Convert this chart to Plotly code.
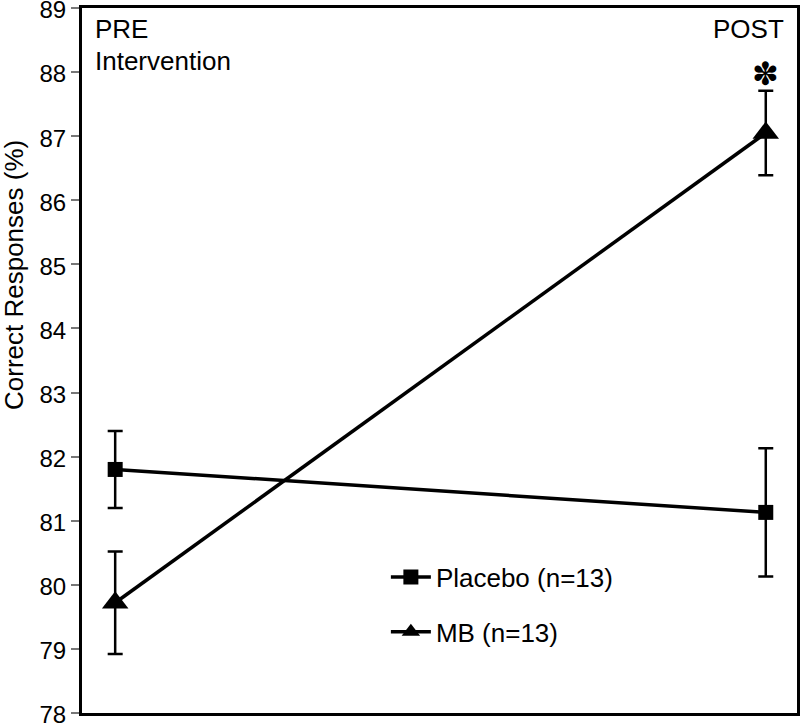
import plotly.graph_objects as go

timepoints = [0, 1]
placebo_mean = [81.80, 81.13]
placebo_err = [0.60, 1.00]
mb_mean = [79.72, 87.05]
mb_err = [0.80, 0.66]
y_ticks = list(range(78, 90))

L, R, T, B = 82, 3, 8, 11
W, H = 800, 724
pw, ph = W - L - R, H - T - B

def px_x(x):
    return (x - L) / pw

def px_y(y):
    return (H - B - y) / ph

fig = go.Figure()
fig.add_trace(go.Scatter(
    x=timepoints, y=placebo_mean, name="Placebo (n=13)", mode="lines+markers",
    legendgroup="a",
    line=dict(color="black", width=3.5),
    marker=dict(symbol="square", size=15, color="black"),
    error_y=dict(type="data", array=placebo_err, color="black", thickness=2.5, width=7.5),
))
fig.add_trace(go.Scatter(
    x=timepoints, y=mb_mean, name="MB (n=13)", mode="lines+markers",
    legendgroup="b",
    line=dict(color="black", width=3.5),
    marker=dict(symbol="triangle-up", size=23, color="black"),
    error_y=dict(type="data", array=mb_err, color="black", thickness=2.5, width=7.5),
))

fig.add_annotation(x=px_x(93), y=px_y(12), xref="paper", yref="paper", text="PRE",
                   showarrow=False, xanchor="left", yanchor="top", align="left",
                   font=dict(size=26, color="black"))
fig.add_annotation(x=px_x(93), y=px_y(44), xref="paper", yref="paper", text="Intervention",
                   showarrow=False, xanchor="left", yanchor="top", align="left",
                   font=dict(size=26, color="black"))
fig.add_annotation(x=px_x(786), y=px_y(12), xref="paper", yref="paper", text="POST",
                   showarrow=False, xanchor="right", yanchor="top", align="right",
                   font=dict(size=26, color="black"))
fig.add_annotation(x=1, y=87.97, xref="x", yref="y", text="✽",
                   showarrow=False, xanchor="center", yanchor="middle",
                   font=dict(size=32, color="black", family="DejaVu Sans"))
fig.add_annotation(x=px_x(14), y=px_y(275), xref="paper", yref="paper",
                   text="Correct Responses (%)",
                   showarrow=False, textangle=-90, xanchor="center", yanchor="middle",
                   font=dict(size=26, color="black"))

fig.update_layout(
    width=W, height=H,
    margin=dict(l=L, r=R, t=T, b=B, autoexpand=False),
    paper_bgcolor="white", plot_bgcolor="white",
    font=dict(family="Liberation Sans, Arial, sans-serif", color="black"),
    showlegend=True,
    legend=dict(x=0.425, y=0.226, xanchor="left", yanchor="top",
                bgcolor="rgba(0,0,0,0)", font=dict(size=26), tracegroupgap=18,
                traceorder="grouped", itemsizing="trace", itemwidth=40),
    xaxis=dict(range=[-0.051, 1.048], showticklabels=False, ticks="",
               showgrid=False, zeroline=False, showline=True, linecolor="black",
               linewidth=3, mirror=True, automargin=False),
    yaxis=dict(range=[78, 89], tickvals=y_ticks, ticks="outside", ticklen=8,
               tickcolor="#777", tickwidth=2, showgrid=False, zeroline=False,
               showline=True, linecolor="black", linewidth=3, mirror=True,
               tickfont=dict(size=24), ticklabeloverflow="allow", automargin=False,
               ticklabelshift=2),
)

fig.write_html("out.html", config={"displayModeBar": False},
               post_script="document.body.style.margin='0px';")
